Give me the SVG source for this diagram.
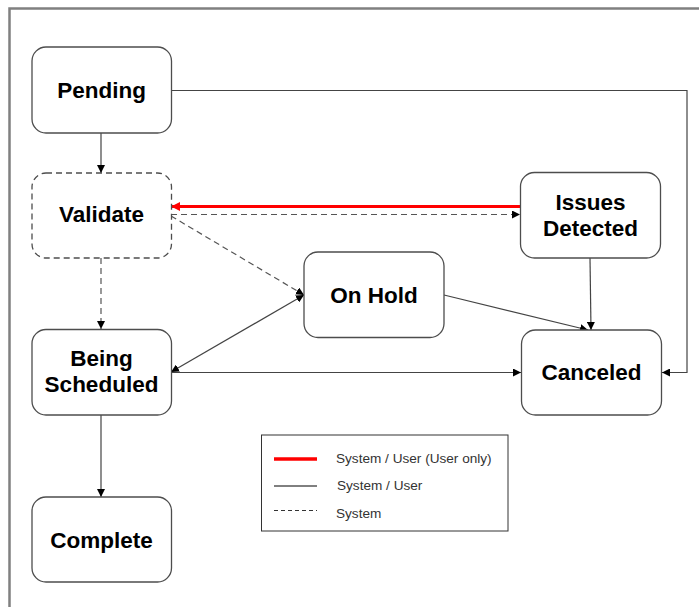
<svg xmlns="http://www.w3.org/2000/svg" width="699" height="607" viewBox="0 0 699 607">
<defs>
<marker id="ah" viewBox="0 0 10 10" refX="10" refY="5" markerWidth="8" markerHeight="8" markerUnits="userSpaceOnUse" orient="auto-start-reverse">
<path d="M0,0 L10,5 L0,10 z" fill="#000"/>
</marker>
<marker id="ahr" viewBox="0 0 10 10" refX="10" refY="5" markerWidth="9" markerHeight="9" markerUnits="userSpaceOnUse" orient="auto">
<path d="M0,0 L10,5 L0,10 z" fill="#ff0000"/>
</marker>
</defs>
<style>
.node rect{fill:#fff;stroke:#4d4d4d;stroke-width:1.3}
.node.dash rect{stroke-dasharray:6,4}
.node text{font-family:"Liberation Sans",Arial,sans-serif;font-weight:bold;font-size:22.5px;fill:#000;text-anchor:middle}
.c{fill:none;stroke:#444;stroke-width:1.2}
.d{fill:none;stroke:#555;stroke-width:1.2;stroke-dasharray:6,4}
.r{fill:none;stroke:#ff0000;stroke-width:3}
.lg{font-family:"Liberation Sans",Arial,sans-serif;font-size:13.6px;fill:#333}
</style>
<rect x="0" y="0" width="699" height="607" fill="#fff"/>
<rect x="9.5" y="8.5" width="700" height="610" fill="none" stroke="#808080" stroke-width="2.5"/>

<g id="connectors">
<line class="c" x1="101" y1="133" x2="101" y2="173" marker-end="url(#ah)"/>
<polyline class="c" points="171,90.5 687,90.5 687,372.5 662,372.5" marker-end="url(#ah)"/>
<line class="r" x1="520" y1="206.5" x2="171" y2="206.5" marker-end="url(#ahr)"/>
<line class="d" x1="171" y1="214.5" x2="520" y2="214.5" marker-end="url(#ah)"/>
<line class="d" x1="171" y1="216" x2="304" y2="295" marker-end="url(#ah)"/>
<line class="d" x1="101" y1="258" x2="101" y2="329" marker-end="url(#ah)"/>
<line class="c" x1="171" y1="372" x2="304" y2="295" marker-start="url(#ah)" marker-end="url(#ah)"/>
<line class="c" x1="171" y1="372.5" x2="521" y2="372.5" marker-end="url(#ah)"/>
<line class="c" x1="590" y1="258" x2="591" y2="330" marker-end="url(#ah)"/>
<line class="c" x1="444" y1="295" x2="588" y2="330" marker-end="url(#ah)"/>
<line class="c" x1="101" y1="415" x2="101" y2="497" marker-end="url(#ah)"/>
</g>

<g id="pending" class="node"><rect x="32" y="47" width="139.5" height="86" rx="14"/><text x="101.5" y="97.5">Pending</text></g>
<g id="validate" class="node dash"><rect x="32" y="173" width="139.5" height="85" rx="14"/><text x="101.5" y="222">Validate</text></g>
<g id="being-scheduled" class="node"><rect x="32" y="329.5" width="139.5" height="85.5" rx="14"/><text x="101.5" y="366">Being</text><text x="101.5" y="392">Scheduled</text></g>
<g id="complete" class="node"><rect x="32" y="497" width="139.5" height="85" rx="14"/><text x="101.5" y="548">Complete</text></g>
<g id="on-hold" class="node"><rect x="304" y="252" width="140" height="85.5" rx="14"/><text x="374" y="303">On Hold</text></g>
<g id="issues-detected" class="node"><rect x="520.5" y="172.5" width="140" height="85.5" rx="14"/><text x="590.5" y="210">Issues</text><text x="590.5" y="236">Detected</text></g>
<g id="canceled" class="node"><rect x="521.5" y="330" width="140" height="85" rx="14"/><text x="591.5" y="380">Canceled</text></g>

<g id="legend">
<rect x="261.5" y="435" width="246.5" height="96" fill="#fff" stroke="#333" stroke-width="1"/>
<line x1="274" y1="459" x2="317" y2="459" stroke="#ff0000" stroke-width="3.5"/>
<text class="lg" x="336" y="463">System / User (User only)</text>
<line x1="274" y1="486" x2="317" y2="486" stroke="#000" stroke-width="1"/>
<text class="lg" x="337" y="490">System / User</text>
<line x1="274" y1="510.5" x2="317" y2="510.5" stroke="#333" stroke-width="1" stroke-dasharray="4,3"/>
<text class="lg" x="336" y="518">System</text>
</g>
</svg>
